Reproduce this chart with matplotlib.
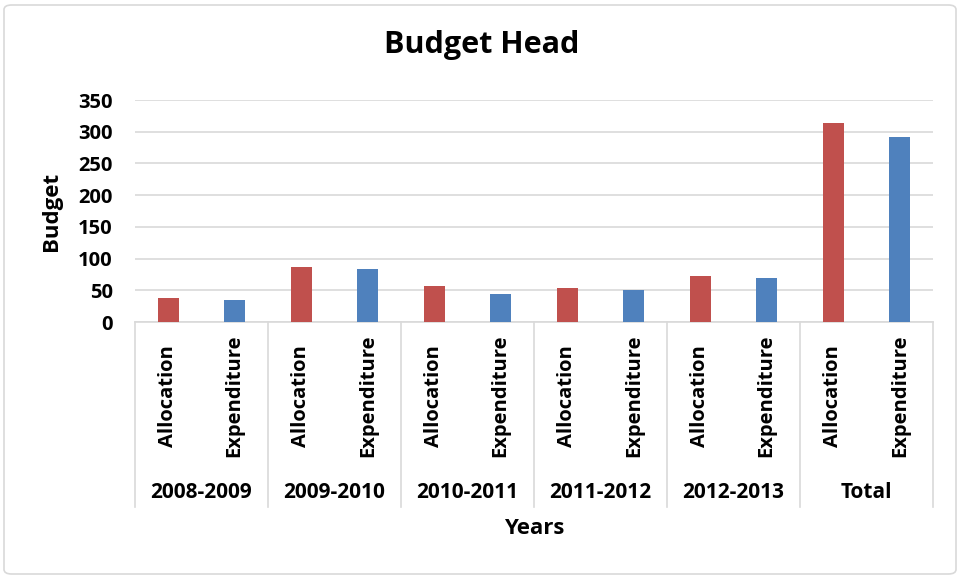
import matplotlib
matplotlib.use("Agg")
import matplotlib.pyplot as plt
from matplotlib.patches import FancyBboxPatch
import matplotlib.transforms as mtransforms

plt.rcParams['font.family'] = ['Open Sans', 'DejaVu Sans']

years = ['2008-2009', '2009-2010', '2010-2011', '2011-2012', '2012-2013', 'Total']
series = ['Allocation', 'Expenditure']
allocation = [38, 86, 56, 53, 73, 313]
expenditure = [35, 84, 44, 51, 70, 291]
yticks = [0, 50, 100, 150, 200, 250, 300, 350]

red = '#C0504D'
blue = '#4F81BD'
grid = '#D9D9D9'

W, H = 961, 578
fig = plt.figure(figsize=(W / 100, H / 100), dpi=100)
fig.patch.set_facecolor('white')
border = FancyBboxPatch((4 / W, 4 / H), 1 - 9 / W, 1 - 9 / H,
                        boxstyle='round,pad=0,rounding_size=0.008',
                        transform=fig.transFigure, facecolor='none',
                        edgecolor=grid, linewidth=1.2)
fig.patches.append(border)

left, right, top, bottom = 135, 933, 100, 322
ax = fig.add_axes([left / W, 1 - bottom / H, (right - left) / W, (bottom - top) / H])
ax_h = bottom - top

xs_a, xs_e = [], []
for i in range(len(years)):
    xs_a.append(2 * i)
    xs_e.append(2 * i + 1)
bw = 0.32
ax.bar(xs_a, allocation, width=bw, color=red, zorder=3)
ax.bar(xs_e, expenditure, width=bw, color=blue, zorder=3)

ax.set_xlim(-0.5, 2 * len(years) - 0.5)
ax.set_ylim(0, 350)
ax.set_yticks(yticks)
ax.set_yticklabels([str(v) for v in yticks], fontsize=14.5, fontweight='bold')
ax.tick_params(axis='y', length=0, pad=16)
ax.set_xticks([])
ax.grid(axis='y', color=grid, linewidth=1.2, zorder=0)
for s in ['left', 'right', 'top']:
    ax.spines[s].set_visible(False)
ax.spines['bottom'].set_color(grid)
ax.spines['bottom'].set_linewidth(1.2)

trans = mtransforms.blended_transform_factory(ax.transData, ax.transAxes)
lab_y = (bottom - 396) / ax_h
grp_y = (bottom - 492) / ax_h
line_bot = (bottom - 507) / ax_h
for i, yr in enumerate(years):
    ax.text(2 * i, lab_y, series[0], transform=trans, rotation=90,
            ha='center', va='center', fontsize=14.5, fontweight='bold')
    ax.text(2 * i + 1, lab_y, series[1], transform=trans, rotation=90,
            ha='center', va='center', fontsize=14.5, fontweight='bold')
    ax.text(2 * i + 0.5, grp_y, yr, transform=trans, ha='center', va='center',
            fontsize=15, fontweight='bold')
for k in range(len(years) + 1):
    ax.plot([2 * k - 0.5, 2 * k - 0.5], [0, line_bot], transform=trans,
            color=grid, linewidth=1.2, clip_on=False)

ax.text(0.5, (bottom - 528) / ax_h, 'Years', transform=ax.transAxes,
        ha='center', va='center', fontsize=16, fontweight='bold')
fig.text(52 / W, 1 - 211 / H, 'Budget', rotation=90, ha='center', va='center',
         fontsize=16, fontweight='bold')
fig.text(482 / W, 1 - 45 / H, 'Budget Head', ha='center', va='center',
         fontsize=22, fontweight='bold')

fig.savefig('out.png', dpi=100)
